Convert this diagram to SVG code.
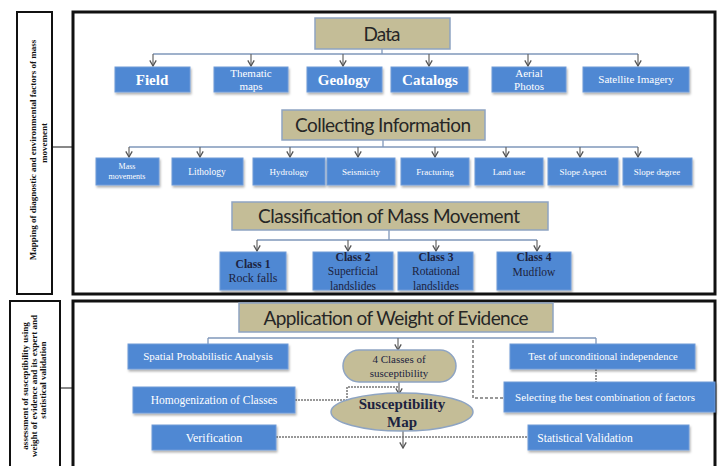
<svg xmlns="http://www.w3.org/2000/svg" width="720" height="466" viewBox="0 0 720 466">
<defs>
<style>
.frame{fill:#fff;stroke:#111;stroke-width:3}
.side{fill:#fff;stroke:#111;stroke-width:2}
.tan{fill:#C4BD97;stroke:#8EA4C2;stroke-width:1.5}
.blue{fill:#4F88D3;stroke:#6E9BD8;stroke-width:1;filter:url(#sh)}
.title{font-family:"Lato","Liberation Sans",sans-serif;font-size:19px;fill:#262626;text-anchor:middle}
.wt{font-family:"Liberation Serif",serif;fill:#fff;text-anchor:middle}
.dk{font-family:"Liberation Serif",serif;fill:#1c2340;text-anchor:middle}
.lab{font-family:"Liberation Serif",serif;font-weight:bold;font-size:9px;fill:#111;text-anchor:middle}
.con{stroke:#7F97BA;stroke-width:1.3;fill:none}
.arr{stroke:#666;stroke-width:1.2;fill:none;marker-end:url(#ah)}
.dot{stroke:#777;stroke-width:1.5;fill:none;stroke-dasharray:2 1}
.dash{stroke:#777;stroke-width:1.5;fill:none;stroke-dasharray:3 2}
</style>
<marker id="ah" viewBox="0 0 10 10" refX="9" refY="5" markerWidth="8" markerHeight="8" markerUnits="userSpaceOnUse" orient="auto">
<path d="M2,1 L9,5 L2,9" fill="none" stroke="#555" stroke-width="1.6"/>
</marker>
<filter id="sh" x="-10%" y="-20%" width="125%" height="160%">
<feDropShadow dx="1" dy="2" stdDeviation="1" flood-color="#000" flood-opacity="0.3"/>
</filter>
</defs>

<g id="frames">
<rect class="frame" x="73" y="12" width="642" height="282"/>
<rect class="frame" x="73" y="301" width="642" height="170"/>
</g>

<g id="side-top">
<rect class="side" x="17" y="12" width="35" height="282"/>
<text class="lab" transform="translate(36,150) rotate(-90)" font-size="9.5">Mapping of diagnostic and environmental factors of mass</text>
<text class="lab" transform="translate(47,143) rotate(-90)" font-size="9.5">movement</text>
</g>
<g id="side-bottom">
<rect class="side" x="10" y="301" width="50" height="170"/>
<text class="lab" transform="translate(28,386) rotate(-90)">assessment of susceptibility using</text>
<text class="lab" transform="translate(37,386) rotate(-90)">weight of evidence and its expert and</text>
<text class="lab" transform="translate(46,380) rotate(-90)">statistical validation</text>
</g>

<g id="connectors">
<line x1="52" y1="147" x2="73" y2="147" stroke="#111" stroke-width="1"/>
<line x1="60" y1="388" x2="73" y2="388" stroke="#111" stroke-width="1"/>
<polyline class="con" points="382,49 382,54"/>
<line class="con" x1="153" y1="54" x2="638" y2="54"/>
<line class="arr" x1="153" y1="54" x2="153" y2="66"/>
<line class="arr" x1="251" y1="54" x2="251" y2="66"/>
<line class="arr" x1="343" y1="54" x2="343" y2="66"/>
<line class="arr" x1="429" y1="54" x2="429" y2="66"/>
<line class="arr" x1="528" y1="54" x2="528" y2="66"/>
<line class="arr" x1="638" y1="54" x2="638" y2="66"/>
<polyline class="con" points="383,140 383,147"/>
<line class="con" x1="129" y1="147" x2="638" y2="147"/>
<line class="arr" x1="129" y1="147" x2="129" y2="157"/>
<line class="arr" x1="200" y1="147" x2="200" y2="157"/>
<line class="arr" x1="290" y1="147" x2="290" y2="157"/>
<line class="arr" x1="358" y1="147" x2="358" y2="157"/>
<line class="arr" x1="435" y1="147" x2="435" y2="157"/>
<line class="arr" x1="506" y1="147" x2="506" y2="157"/>
<line class="arr" x1="580" y1="147" x2="580" y2="157"/>
<line class="arr" x1="638" y1="147" x2="638" y2="157"/>
<polyline class="con" points="389,230 389,240"/>
<line class="con" x1="257" y1="240" x2="537" y2="240"/>
<line class="arr" x1="257" y1="240" x2="257" y2="251"/>
<line class="arr" x1="348" y1="240" x2="348" y2="251"/>
<line class="arr" x1="436" y1="240" x2="436" y2="251"/>
<line class="arr" x1="537" y1="240" x2="537" y2="251"/>
<line class="con" x1="208" y1="338" x2="596" y2="338"/>
<line class="con" x1="208" y1="338" x2="208" y2="344"/>
<line class="con" x1="596" y1="338" x2="596" y2="344"/>
<line class="arr" x1="398" y1="338" x2="398" y2="350"/>
<line class="arr" x1="399" y1="382" x2="399" y2="394"/>
<line class="arr" x1="403" y1="431" x2="403" y2="448"/>
<polyline class="dot" points="295,400 347,400 347,387 398,387"/>
<line class="dot" x1="276" y1="437" x2="528" y2="437"/>
<polyline class="dash" points="473,340 473,398 504,398"/>
<line class="dot" x1="596" y1="369" x2="596" y2="382"/>
</g>

<g id="data"><rect class="tan" x="315" y="18" width="135" height="31"/><text class="title" x="382" y="41" font-size="20" textLength="37">Data</text></g>
<g id="field"><rect class="blue" x="115" y="67" width="75" height="25"/><text class="wt" x="152" y="85" font-size="15" font-weight="bold">Field</text></g>
<g id="thematic"><rect class="blue" x="214" y="67" width="74" height="25"/><text class="wt" x="251" y="77" font-size="11">Thematic</text><text class="wt" x="251" y="90" font-size="11">maps</text></g>
<g id="geology"><rect class="blue" x="307" y="67" width="75" height="25"/><text class="wt" x="344" y="85" font-size="15" font-weight="bold">Geology</text></g>
<g id="catalogs"><rect class="blue" x="391" y="67" width="77" height="25"/><text class="wt" x="430" y="85" font-size="15" font-weight="bold">Catalogs</text></g>
<g id="aerial"><rect class="blue" x="492" y="67" width="74" height="25"/><text class="wt" x="529" y="77" font-size="11">Aerial</text><text class="wt" x="529" y="90" font-size="11">Photos</text></g>
<g id="satellite"><rect class="blue" x="583" y="67" width="106" height="25"/><text class="wt" x="636" y="83" font-size="11">Satellite Imagery</text></g>

<g id="collecting"><rect class="tan" x="282" y="110" width="203" height="30"/><text class="title" x="383" y="132" textLength="176">Collecting Information</text></g>
<g id="mass"><rect class="blue" x="96" y="158" width="63" height="27"/><text class="wt" x="127" y="169" font-size="8">Mass</text><text class="wt" x="127" y="179" font-size="8">movements</text></g>
<g id="lithology"><rect class="blue" x="172" y="158" width="71" height="27"/><text class="wt" x="207" y="175" font-size="9.5">Lithology</text></g>
<g id="hydrology"><rect class="blue" x="253" y="158" width="72" height="27"/><text class="wt" x="289" y="175" font-size="9">Hydrology</text></g>
<g id="seismicity"><rect class="blue" x="327" y="158" width="68" height="27"/><text class="wt" x="361" y="175" font-size="9">Seismicity</text></g>
<g id="fracturing"><rect class="blue" x="401" y="158" width="68" height="27"/><text class="wt" x="435" y="175" font-size="9">Fracturing</text></g>
<g id="landuse"><rect class="blue" x="475" y="158" width="68" height="27"/><text class="wt" x="509" y="175" font-size="9">Land use</text></g>
<g id="aspect"><rect class="blue" x="548" y="158" width="70" height="27"/><text class="wt" x="583" y="175" font-size="9">Slope Aspect</text></g>
<g id="degree"><rect class="blue" x="623" y="158" width="69" height="27"/><text class="wt" x="657" y="175" font-size="9">Slope degree</text></g>

<g id="classification"><rect class="tan" x="232" y="202" width="316" height="28"/><text class="title" x="389" y="223" textLength="262">Classification of Mass Movement</text></g>
<g id="class1"><rect class="blue" x="220" y="252" width="66" height="38"/><text class="dk" x="253" y="268" font-size="11.5" font-weight="bold">Class 1</text><text class="dk" x="253" y="282" font-size="12">Rock falls</text></g>
<g id="class2"><rect class="blue" x="313" y="252" width="80" height="38"/><text class="dk" x="353" y="261" font-size="11.5" font-weight="bold">Class 2</text><text class="dk" x="353" y="275" font-size="11.5">Superficial</text><text class="dk" x="353" y="290" font-size="11.5">landslides</text></g>
<g id="class3"><rect class="blue" x="398" y="252" width="75" height="38"/><text class="dk" x="436" y="261" font-size="11.5" font-weight="bold">Class 3</text><text class="dk" x="436" y="275" font-size="11.5">Rotational</text><text class="dk" x="436" y="290" font-size="11.5">landslides</text></g>
<g id="class4"><rect class="blue" x="497" y="252" width="74" height="38"/><text class="dk" x="534" y="261" font-size="11.5" font-weight="bold">Class 4</text><text class="dk" x="534" y="276" font-size="11.5">Mudflow</text></g>

<g id="woe"><rect class="tan" x="239" y="303" width="314" height="29"/><text class="title" x="396" y="325" textLength="265">Application of Weight of Evidence</text></g>
<g id="spatial"><rect class="blue" x="128" y="344" width="160" height="25"/><text class="wt" x="208" y="360" font-size="11">Spatial Probabilistic Analysis</text></g>
<g id="test"><rect class="blue" x="510" y="344" width="185" height="25"/><text class="wt" x="603" y="360" font-size="10.5">Test of unconditional independence</text></g>
<g id="classes4"><rect class="tan" x="343" y="350" width="113" height="32" rx="16"/><text class="dk" x="399" y="363" font-size="11">4 Classes of</text><text class="dk" x="399" y="377" font-size="11">susceptibility</text></g>
<g id="homog"><rect class="blue" x="133" y="387" width="162" height="26"/><text class="wt" x="214" y="404" font-size="11.5">Homogenization of Classes</text></g>
<g id="selecting"><rect class="blue" x="504" y="382" width="211" height="30"/><text class="wt" x="605" y="401" font-size="11">Selecting the best combination of factors</text></g>
<g id="map"><ellipse class="tan" cx="402" cy="412" rx="71" ry="19"/><text class="dk" x="402" y="409" font-size="15" font-weight="bold" fill="#1a1a1a">Susceptibility</text><text class="dk" x="402" y="427" font-size="15" font-weight="bold">Map</text></g>
<g id="verification"><rect class="blue" x="152" y="425" width="124" height="25"/><text class="wt" x="214" y="442" font-size="12">Verification</text></g>
<g id="statval"><rect class="blue" x="528" y="425" width="161" height="25"/><text class="wt" x="585" y="442" font-size="11.5">Statistical Validation</text></g>
</svg>
